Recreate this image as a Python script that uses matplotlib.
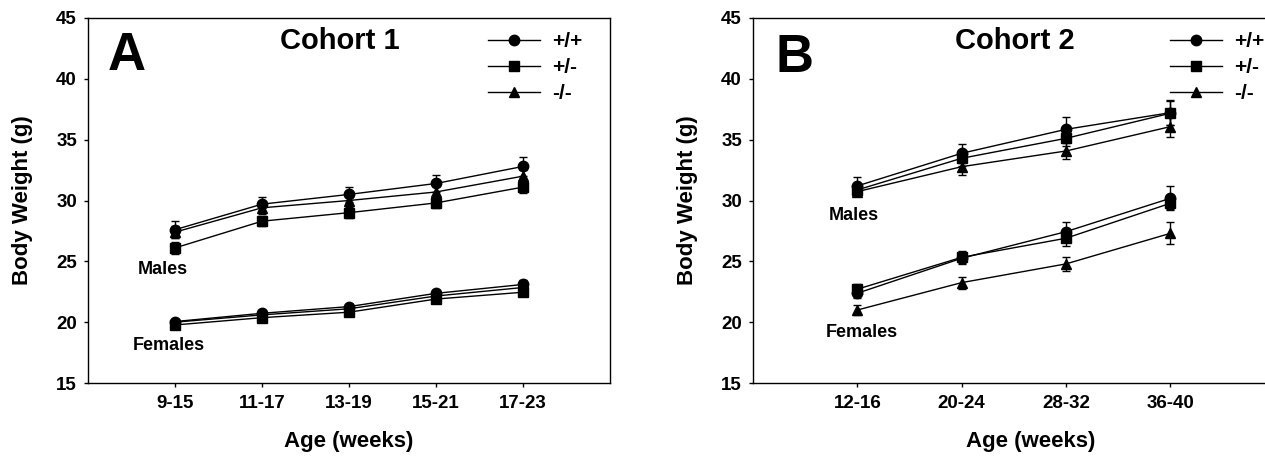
import numpy as np
import matplotlib.pyplot as plt

plt.rcParams['font.family'] = ['Liberation Sans', 'DejaVu Sans']
plt.rcParams['font.weight'] = 'bold'

genotypes = ['+/+', '+/-', '-/-']
markers = ['o', 's', '^']
msizes = [7.5, 6.5, 7]

# Cohort 1 (panel A)
ages_a = ['9-15', '11-17', '13-19', '15-21', '17-23']
males_a = [[27.6, 29.7, 30.5, 31.4, 32.8],
           [26.1, 28.3, 29.0, 29.8, 31.1],
           [27.4, 29.4, 30.0, 30.7, 32.0]]
males_a_err = [[0.7, 0.6, 0.6, 0.7, 0.8],
               [0.5, 0.4, 0.4, 0.4, 0.5],
               [0.5, 0.5, 0.5, 0.5, 0.5]]
females_a = [[20.05, 20.73, 21.28, 22.37, 23.1],
             [19.77, 20.37, 20.82, 21.9, 22.46],
             [20.0, 20.6, 21.1, 22.15, 22.85]]
females_a_err = [[0.25, 0.25, 0.25, 0.3, 0.35],
                 [0.2, 0.2, 0.2, 0.25, 0.3],
                 [0.2, 0.2, 0.2, 0.25, 0.3]]

# Cohort 2 (panel B)
ages_b = ['12-16', '20-24', '28-32', '36-40']
males_b = [[31.2, 33.88, 35.85, 37.22],
           [30.87, 33.47, 35.11, 37.17],
           [30.73, 32.78, 34.07, 36.07]]
males_b_err = [[0.76, 0.8, 1.0, 1.05],
               [0.35, 0.6, 0.6, 1.0],
               [0.4, 0.68, 0.68, 0.82]]
females_b = [[22.38, 25.25, 27.44, 30.18],
             [22.71, 25.33, 26.9, 29.77],
             [21.0, 23.25, 24.79, 27.3]]
females_b_err = [[0.4, 0.5, 0.82, 1.0],
                 [0.4, 0.5, 0.6, 0.5],
                 [0.4, 0.5, 0.55, 0.9]]

fig = plt.figure(figsize=(12.65, 4.58), dpi=100)
ax_a = fig.add_axes([88 / 1265, 75 / 458, 522 / 1265, 365 / 458])
ax_b = fig.add_axes([753 / 1265, 75 / 458, 553 / 1265, 365 / 458])


def draw_panel(ax, ages, males, males_err, females, females_err, xmax):
    x = np.arange(1, len(ages) + 1)
    for i in range(3):
        for vals, errs, lab in [(males[i], males_err[i], genotypes[i]),
                                (females[i], females_err[i], None)]:
            ax.errorbar(x, vals, yerr=errs, fmt='none', ecolor='black',
                        elinewidth=1, capsize=3, capthick=1, zorder=2)
            ax.plot(x, vals, color='black', lw=1, marker=markers[i],
                    ms=msizes[i], mfc='black', mec='black', label=lab, zorder=3)
    ax.set_xlim(0, xmax)
    ax.set_ylim(15, 45)
    ax.set_yticks(range(15, 46, 5))
    ax.set_xticks(x)
    ax.set_xticklabels(ages)
    ax.tick_params(direction='out', length=3, width=1, labelsize=13.5, pad=5)
    ax.tick_params(axis='x', pad=6)
    for s in ax.spines.values():
        s.set_linewidth(1)
    ax.set_xlabel('Age (weeks)', fontsize=16, fontweight='bold')
    ax.set_ylabel('Body Weight (g)', fontsize=16, fontweight='bold')


draw_panel(ax_a, ages_a, males_a, males_a_err, females_a, females_a_err, 6)
draw_panel(ax_b, ages_b, males_b, males_b_err, females_b, females_b_err, 5.3)

ax_a.yaxis.set_label_coords(-0.105, 0.5)
ax_a.xaxis.set_label_coords(0.5, -0.132)
ax_b.yaxis.set_label_coords(-0.099, 0.5)
ax_b.xaxis.set_label_coords(0.503, -0.132)

# panel letters and titles
ax_a.text(0.45, 41.9, 'A', fontsize=38, fontweight='bold', ha='center', va='center')
ax_a.text(2.89, 43.15, 'Cohort 1', fontsize=21, fontweight='bold', ha='center', va='center')
ax_a.text(0.86, 24.33, 'Males', fontsize=13, fontweight='bold', ha='center', va='center')
ax_a.text(0.93, 18.05, 'Females', fontsize=13, fontweight='bold', ha='center', va='center')

ax_b.text(0.40, 41.7, 'B', fontsize=38, fontweight='bold', ha='center', va='center')
ax_b.text(2.51, 43.15, 'Cohort 2', fontsize=21, fontweight='bold', ha='center', va='center')
ax_b.text(0.97, 28.75, 'Males', fontsize=13, fontweight='bold', ha='center', va='center')
ax_b.text(1.04, 19.15, 'Females', fontsize=13, fontweight='bold', ha='center', va='center')

for ax, lx in [(ax_a, 0.766), (ax_b, 0.754)]:
    ax.legend(loc='upper left', bbox_to_anchor=(lx, 0.962), frameon=False,
              handlelength=2.5, handletextpad=0.6,
              labelspacing=0.35, borderpad=0, borderaxespad=0,
              prop={'weight': 'bold', 'size': 15})

fig.savefig('out.png', dpi=100)
